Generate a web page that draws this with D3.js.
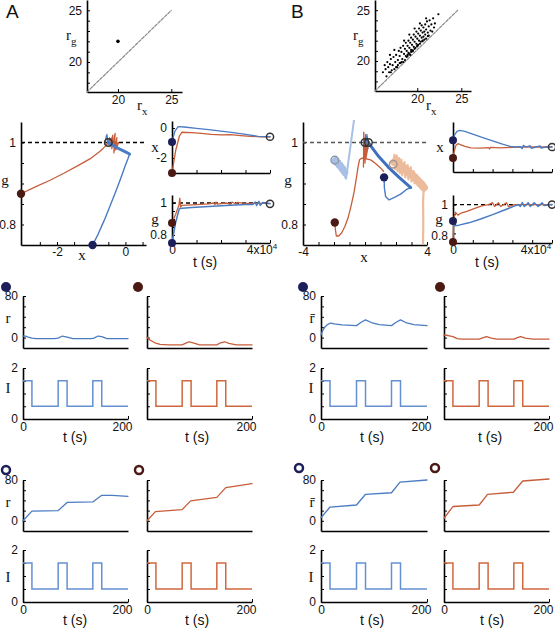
<!DOCTYPE html>
<html><head><meta charset="utf-8">
<script src="https://cdn.jsdelivr.net/npm/d3@7"></script>
<style>body{margin:0;background:#fff}</style>
</head><body><script>
// ---------------- DATA ----------------
const scatterA = [[20, 22]];
const diagA = [[17.1, 17.1], [25, 25]];
const scatterB = [[16.1,18.9],[16.3,19.6],[16.4,19.2],[16.5,18.5],[16.6,19.9],[16.7,19.4],[16.8,18.9],[16.9,19.7],[17.0,20.2],[17.1,19.1],[17.2,19.6],[17.3,20.4],[17.4,19.2],[17.5,19.9],[17.6,20.6],[17.7,19.4],[17.8,20.1],[17.9,21.0],[18.0,19.8],[18.0,20.5],[18.1,21.3],[18.2,19.9],[18.2,20.9],[18.3,20.2],[18.4,21.5],[18.4,19.9],[18.5,20.7],[18.6,21.2],[18.6,20.1],[18.7,21.8],[18.7,20.5],[18.8,20.4],[18.8,21.0],[18.9,21.5],[18.9,20.6],[19.0,22.0],[19.0,20.8],[19.1,21.3],[19.1,20.7],[19.2,21.8],[19.2,20.6],[19.3,22.3],[19.3,21.1],[19.4,20.95],[19.4,21.6],[19.5,22.1],[19.5,21.0],[19.6,22.6],[19.6,21.4],[19.7,21.2],[19.7,21.9],[19.8,22.4],[19.8,21.3],[19.9,22.9],[19.9,21.7],[20.0,21.45],[20.0,22.2],[20.1,22.7],[20.1,21.6],[20.2,23.2],[20.2,22.0],[20.3,21.7],[20.3,22.5],[20.4,23.0],[20.4,21.9],[20.5,22.3],[20.5,23.5],[20.6,22.0],[20.6,22.8],[20.7,23.3],[20.7,22.4],[20.8,22.9],[20.8,22.1],[20.9,23.6],[20.9,22.6],[21.0,23.1],[21.0,22.2],[21.1,23.9],[21.2,22.8],[21.3,23.4],[21.3,22.5],[21.4,24.0],[21.5,23.0],[21.6,23.6],[21.7,22.9],[21.8,24.2],[21.9,23.3],[22.0,23.7],[22.4,24.6],[17.0,18.9],[17.6,19.4],[18.1,19.8],[18.9,20.5],[19.5,21.05],[20.0,21.5],[20.6,21.95],[21.2,22.45],[16.9,20.6],[17.4,21.1],[18.5,22.0],[19.1,22.6],[19.7,23.2],[20.3,23.7],[21.0,24.2],[17.8,19.6],[19.3,20.9]];
const diagB = [[15.2, 17.06], [24.6, 25]];

// Phase plane A (x, g)
const redPhaseA = [[-3.05,0.875],[-2.6,0.893],[-2.2,0.908],[-1.8,0.925],[-1.4,0.943],[-1.0,0.962],[-0.75,0.978],[-0.6,0.99],[-0.5,1.0],[-0.42,1.01],[-0.45,0.99],[-0.37,1.018],[-0.4,0.985],[-0.3,1.022],[-0.34,0.975],[-0.25,1.012],[-0.28,0.982],[-0.2,1.0],[-0.35,0.995],[-0.5,1.0]];
const bluePhaseA = [[-0.96,0.75],[-0.8,0.776],[-0.62,0.81],[-0.45,0.845],[-0.3,0.877],[-0.15,0.91],[-0.02,0.94],[0.07,0.96],[0.12,0.972]];
const blueReturnA = [[0.12,0.972],[0.0,0.977],[-0.15,0.983],[-0.3,0.99],[-0.42,0.996],[-0.5,1.0]];
const blueSpikeA = [[-0.5,1.0],[-0.56,1.016],[-0.6,0.996],[-0.54,1.02],[-0.5,0.995],[-0.46,1.012],[-0.5,1.0]];
const startA = {blue:[-0.96,0.75], red:[-3.05,0.875]};
const endA = [-0.5, 1.0];

// A time courses
const xBlueA = [[0,-0.93],[1200,-0.2],[2500,0.1],[5000,0.07],[10000,-0.02],[15000,-0.1],[20000,-0.2],[25000,-0.3],[30000,-0.42],[35000,-0.55],[40000,-0.58]];
const xRedA = [[0,-3],[1500,-1.5],[3000,-0.55],[4000,-0.28],[8000,-0.3],[12000,-0.35],[16000,-0.42],[20000,-0.45],[24000,-0.44],[28000,-0.5],[32000,-0.55],[36000,-0.58],[40000,-0.58]];
const gBlueA = [[0,0.75],[1500,0.88],[3000,0.965],[8000,0.972],[15000,0.978],[22000,0.985],[30000,0.99],[33000,0.99],[34000,1.006],[34500,0.984],[35500,1.01],[36000,0.985],[37000,1.003],[40000,0.995]];
const gRedA = [[0,0.875],[1500,0.93],[2800,0.985],[3200,1.03],[3500,0.975],[4000,0.985],[10000,0.99],[15000,0.995],[17000,1.0],[17500,0.99],[18000,1.006],[18500,0.993],[22000,1.0],[24000,0.992],[24500,1.006],[26000,0.994],[26500,1.004],[30000,0.998],[40000,0.998]];

// Phase plane B
const redPhaseB = [[-1.95,0.805],[-1.9,0.785],[-1.85,0.772],[-1.7,0.772],[-1.5,0.78],[-1.3,0.795],[-1.1,0.815],[-0.9,0.845],[-0.7,0.88],[-0.55,0.915],[-0.45,0.94],[-0.35,0.958],[-0.2,0.962],[0.1,0.96],[0.4,0.957],[0.7,0.948],[1.0,0.938],[1.2,0.93]];
const redSpikeB = [[-0.1,0.94],[-0.08,1.025],[0.0,0.95],[0.05,1.02],[-0.05,0.97],[0.12,1.01],[0.05,0.96],[0.2,0.99],[0.0,1.0]];
const bluePhaseB = [[1.23,0.915],[1.25,0.89],[1.33,0.868],[1.55,0.86],[1.9,0.866],[2.3,0.874],[2.7,0.886],[2.95,0.89]];
const blueReturnB = [[2.95,0.89],[2.2,0.915],[1.5,0.94],[0.9,0.965],[0.5,0.985],[0.22,1.0]];
const blueSpikeB = [[0.22,1.0],[0.12,1.02],[0.18,0.985],[0.06,1.015],[0.2,0.99],[0.22,1.0]];
const lightBlueB = [[-1.95,0.957],[-1.9,0.965],[-1.88,0.945],[-1.8,0.962],[-1.78,0.94],[-1.7,0.958],[-1.68,0.936],[-1.6,0.955],[-1.58,0.93],[-1.5,0.95],[-1.48,0.925],[-1.4,0.945],[-1.38,0.92],[-1.3,0.94],[-1.28,0.915],[-1.22,0.912],[-0.69,1.06]];
const lightBlueBand = [[-1.93,0.955],[-1.6,0.943],[-1.3,0.928]];
const lightOrangeB = [[1.82,0.947],[1.9,0.97],[1.95,0.935],[2.05,0.968],[2.1,0.93],[2.2,0.962],[2.25,0.925],[2.35,0.958],[2.4,0.92],[2.55,0.952],[2.6,0.915],[2.75,0.945],[2.8,0.91],[2.95,0.94],[3.0,0.905],[3.15,0.93],[3.2,0.9],[3.35,0.92],[3.4,0.895],[3.55,0.91],[3.6,0.89],[3.75,0.9],[3.85,0.885],[3.78,0.88],[3.75,0.86],[3.76,0.8],[3.74,0.74]];
const lightOrangeBand = [[1.9,0.952],[2.4,0.94],[3.0,0.922],[3.6,0.9],[3.8,0.89]];
const startB = {blue:[1.23,0.915], red:[-1.95,0.805]};
const endsB = [[0.0,1.0],[0.22,1.0]];
const fadedEndsB = {blue:[-1.95,0.957], orange:[1.82,0.947]};

// B time courses
const xBlueB = [[0,1.23],[800,2.2],[2000,2.8],[3500,3.0],[6000,2.8],[10000,2.3],[15000,1.7],[20000,1.1],[25000,0.5],[29000,0.1],[31000,0.0],[34000,0.05],[35000,-0.3],[35500,0.3],[37000,0.0],[39000,0.25],[39500,-0.25],[42000,0.0],[44000,0.2],[44500,-0.2],[47000,0.0],[50000,0.0]];
const xRedB = [[0,-2.0],[600,-0.8],[1500,0.3],[2500,0.6],[4000,0.4],[6000,0.1],[9000,-0.15],[14000,-0.2],[18000,-0.1],[18500,-0.35],[19000,-0.05],[24000,-0.15],[30000,-0.05],[36000,0.0],[50000,0.0]];
const gBlueB = [[0,0.915],[700,0.89],[3000,0.893],[8000,0.905],[14000,0.925],[20000,0.948],[26000,0.972],[30000,0.988],[33000,1.0],[34000,0.99],[35000,1.01],[36000,0.99],[38000,1.01],[39000,0.99],[41000,1.01],[43000,0.99],[45000,1.01],[46000,0.995],[50000,1.0]];
const gRedB = [[0,0.805],[500,0.93],[1200,0.96],[2500,0.945],[4000,0.955],[7000,0.965],[11000,0.98],[15000,0.995],[18000,1.0],[20000,1.01],[21000,0.99],[23000,1.01],[24000,0.99],[27000,1.01],[28000,0.99],[31000,1.0],[50000,1.0]];

// Stimulus I(t)
const tPulse = [0,17,67,84,133,150,200];
const iPulse = [1.5,0.5,1.5,0.5,1.5,0.5,0.5];

// Rates (t, r)
const rA3Blue = [[0,3],[5,3],[10,1],[17,-1],[25,-2],[60,-2],[67,-1],[75,3],[84,1],[95,-2],[130,-2],[135,-1],[143,3],[150,2],[160,-2],[200,-2]];
const rA3Red = [[0,1],[3,-3],[8,-6],[15,-10],[25,-13],[40,-14],[67,-14],[75,-10],[80,-8],[88,-10],[100,-14],[133,-14],[140,-10],[148,-8],[156,-11],[170,-14],[200,-14]];
const rB3Blue = [[0,5],[3,13],[7,20],[12,25],[18,28],[25,26.5],[40,24.5],[67,23],[75,29],[84,34],[95,29],[110,25],[133,23],[141,29],[150,34],[160,29],[175,25],[200,23]];
const rB3Red = [[0,5],[8,4],[17,2],[25,-2],[35,-3],[67,-3],[75,0],[81,2],[90,-1],[100,-3],[133,-3],[140,0],[146,2],[155,-1],[170,-3],[200,-3]];
const rA4Blue = [[0,0],[17,19],[67,20],[84,36],[133,37],[150,50],[170,50],[200,48]];
const rA4Red = [[0,0],[16,18],[67,22],[83,39],[133,46],[150,65],[200,73]];
const rB4Blue = [[0,6],[17,27],[67,31],[84,52],[133,55],[149,76],[200,80]];
const rB4Red = [[0,5],[17,28],[67,31],[83,52],[132,56],[150,78],[200,82]];

// ---------------- DRAW ----------------
const SANS = "Liberation Sans, Arial, Helvetica, sans-serif";
const SERIF = "Liberation Serif, Times New Roman, DejaVu Serif, serif";
const BLUE = "#4a7cc3", RED = "#c85d3a", DBLUE = "#1d1f5a", DRED = "#4b1a14";
const LBLUE = "#a9c0e6", LORANGE = "#ecbb9c", IBLUE = "#6590d2", IRED = "#d0683f";

const svg = d3.select("body").append("svg").attr("width",555).attr("height",628);
svg.append("rect").attr("width",555).attr("height",628).attr("fill","#fff");
let clipN = 0;

function panel(left,right,top,bottom,xd,yd){
  return {x:d3.scaleLinear().domain(xd).range([left,right]),
          y:d3.scaleLinear().domain(yd).range([bottom,top]), left,right,top,bottom};
}
function drawAxes(p,o){
  const ax = d3.axisBottom(p.x).tickValues(o.xt||[]).tickSizeInner(-3).tickSizeOuter(0)
    .tickPadding(o.xpad||2).tickFormat(o.xf||(()=>""));
  const gx = svg.append("g").attr("transform",`translate(0,${p.bottom})`).call(ax);
  const ay = d3.axisLeft(p.y).tickValues(o.yt||[]).tickSizeInner(-3).tickSizeOuter(0)
    .tickPadding(o.ypad||5).tickFormat(o.yf||(()=>""));
  const gy = svg.append("g").attr("transform",`translate(${p.left},0)`).call(ay);
  [gx,gy].forEach(g=>{
    g.select(".domain").attr("stroke","#000").attr("stroke-width",1.6);
    g.selectAll(".tick line").attr("stroke","#000").attr("stroke-width",1);
    g.selectAll(".tick text").attr("font-family",SANS).attr("font-size",o.fs||12).attr("fill","#111");
  });
  return gx;
}
function makeClip(p){
  const id="c"+(clipN++);
  svg.append("clipPath").attr("id",id).append("rect")
    .attr("x",p.left).attr("y",p.top-2).attr("width",p.right-p.left+2).attr("height",p.bottom-p.top+2);
  return id;
}
function line(p,data,color,w,clip,dash){
  const l = d3.line().x(d=>p.x(d[0])).y(d=>p.y(d[1]));
  svg.append("path").datum(data).attr("d",l).attr("fill","none").attr("stroke",color)
    .attr("stroke-width",w).attr("stroke-linejoin","round").attr("stroke-linecap","round")
    .attr("stroke-dasharray",dash||null)
    .attr("clip-path",clip?`url(#${clip})`:null);
}
function dot(p,d,color,r){
  svg.append("circle").attr("cx",p.x(d[0])).attr("cy",p.y(d[1])).attr("r",r||4).attr("fill",color);
}
function ring(p,d,color,r,w){
  svg.append("circle").attr("cx",p.x(d[0])).attr("cy",p.y(d[1])).attr("r",r||3.8)
    .attr("fill","none").attr("stroke",color).attr("stroke-width",w||1.5);
}
function hdash(p,v,color){
  svg.append("line").attr("x1",p.left).attr("x2",p.right).attr("y1",p.y(v)).attr("y2",p.y(v))
    .attr("stroke",color).attr("stroke-width",1.3).attr("stroke-dasharray","4,3");
}
function txt(x,y,s,o){
  o=o||{};
  return svg.append("text").attr("x",x).attr("y",y).text(s)
    .attr("font-family",o.font||SANS).attr("font-size",o.size||12)
    .attr("text-anchor",o.anchor||"middle").attr("fill","#111");
}
function subLabel(x,y,main,sub){
  const t = svg.append("text").attr("x",x).attr("y",y).attr("font-family",SERIF).attr("font-size",15).attr("fill","#111");
  t.append("tspan").text(main);
  t.append("tspan").attr("dy",5).attr("font-size",11).text(sub);
}
function sciLabel(x,y){
  const t = svg.append("text").attr("x",x).attr("y",y).attr("font-family",SANS).attr("font-size",12)
    .attr("text-anchor","middle").attr("fill","#111");
  t.append("tspan").text("4x10");
  t.append("tspan").attr("dy",-5).attr("font-size",8).text("4");
}

// Panel letters
txt(6,18,"A",{size:19,anchor:"start"});
txt(291,18,"B",{size:19,anchor:"start"});

// ---- Top scatter A
{
  const p = panel(87,182,0,92,[17.1,26],[17.1,26]);
  drawAxes(p,{xt:[20,25],yt:[18,19,20,21,22,23,24,25],xpad:3,
    xf:d=>d===20||d===25?String(d):"", yf:d=>d===20||d===25?String(d):""});
  line(p,diagA,"#8a8a8a",1.2,null,"3,1.5");
  scatterA.forEach(d=>dot(p,d,"#000",1.8));
  subLabel(66,40,"r","g");
  subLabel(137,110,"r","x");
}
// ---- Top scatter B
{
  const p = panel(375,471,0,91,[15.2,26.1],[17.06,26]);
  drawAxes(p,{xt:[20,25],yt:[18,19,20,21,22,23,24,25],xpad:3,
    xf:d=>d===20||d===25?String(d):"", yf:d=>d===20||d===25?String(d):""});
  line(p,diagB,"#8a8a8a",1.2,null,"3,1.5");
  scatterB.forEach(d=>dot(p,d,"#000",1.1));
  subLabel(353,40,"r","g");
  subLabel(426,110,"r","x");
}

// ---- Phase A
{
  const p = panel(21,146,122,245,[-3.05,0.6],[0.75,1.05]);
  const c = makeClip(p);
  drawAxes(p,{xt:[-2.5,-2,-1.5,-1,-0.5,0,0.5],yt:[0.8,0.85,0.9,0.95,1],
    xf:d=>d===-2?"-2":d===0?"0":"", yf:d=>d===1?"1":d===0.8?"0.8":""});
  hdash(p,1,"#000");
  line(p,redPhaseA,RED,1.3,c);
  line(p,bluePhaseA,BLUE,1.4,c);
  line(p,blueReturnA,BLUE,3,c);
  line(p,blueSpikeA,BLUE,1.2,c);
  dot(p,startA.red,DRED,4.2);
  dot(p,startA.blue,DBLUE,4.2);
  ring(p,endA,"#333",3.8,1.5);
  txt(82,260,"x",{font:SERIF,size:15});
  txt(5,185,"g",{font:SERIF,size:15});
}
// ---- A x(t)
{
  const p = panel(172,270,121,173,[0,40000],[-3,0.47]);
  drawAxes(p,{xt:[10000,20000,30000,40000],yt:[-3,-2,-1,0],
    yf:d=>d===0?"0":d===-2?"-2":""});
  line(p,xRedA,RED,1.3);
  line(p,xBlueA,BLUE,1.3);
  dot(p,xBlueA[0],DBLUE,4);
  dot(p,xRedA[0],DRED,4);
  ring(p,xBlueA[xBlueA.length-1],"#333",3.6,1.5);
  txt(155,152,"x",{font:SERIF,size:15});
}
// ---- A g(t)
{
  const p = panel(172,270,195,243,[0,40000],[0.75,1.05]);
  drawAxes(p,{xt:[0,10000,20000,30000,40000],yt:[0.8,0.85,0.9,0.95,1],
    xf:d=>d===0?"0":"", yf:d=>d===1?"1":d===0.8?"0.8":""});
  hdash(p,1,"#000");
  line(p,gRedA,RED,1.3);
  line(p,gBlueA,BLUE,1.5);
  dot(p,gBlueA[0],DBLUE,4);
  dot(p,gRedA[0],DRED,4);
  ring(p,gBlueA[gBlueA.length-1],"#333",3.6,1.5);
  txt(155,224,"g",{font:SERIF,size:15});
  sciLabel(262,254);
  txt(205,267,"t (s)",{size:14});
}

// ---- Phase B
{
  const p = panel(303,427,122,245,[-4,4],[0.75,1.05]);
  const c = makeClip(p);
  drawAxes(p,{xt:[-4,-3,-2,-1,0,1,2,3,4],yt:[0.8,0.85,0.9,0.95,1],
    xf:d=>d===-4?"-4":d===4?"4":"", yf:d=>d===1?"1":d===0.8?"0.8":""});
  hdash(p,1,"#555");
  line(p,lightBlueBand,LBLUE,7,c);
  line(p,lightOrangeBand,LORANGE,8,c);
  line(p,lightBlueB,LBLUE,2,c);
  line(p,lightOrangeB,LORANGE,2.2,c);
  line(p,redPhaseB,RED,1.3,c);
  line(p,redSpikeB,RED,1.3,c);
  line(p,bluePhaseB,BLUE,1.4,c);
  line(p,blueReturnB,"#3f6fbd",3,c);
  line(p,blueSpikeB,BLUE,1.2,c);
  dot(p,startB.red,DRED,4.2);
  dot(p,startB.blue,DBLUE,4.2);
  ring(p,fadedEndsB.blue,"#8e97a8",3.8,1.5);
  ring(p,fadedEndsB.orange,"#a8968c",3.8,1.5);
  endsB.forEach(d=>ring(p,d,"#333",3.8,1.5));
  txt(364,262,"x",{font:SERIF,size:15});
  txt(288,185,"g",{font:SERIF,size:15});
}
// ---- B x(t)
{
  const p = panel(453,552,122,172,[0,50000],[-4.5,4.5]);
  drawAxes(p,{xt:[10000,20000,30000,40000,50000],yt:[]});
  line(p,xRedB,RED,1.3);
  line(p,xBlueB,BLUE,1.3);
  dot(p,xBlueB[0],DBLUE,4);
  dot(p,xRedB[0],DRED,4);
  ring(p,xBlueB[xBlueB.length-1],"#333",3.6,1.5);
  txt(440,152,"x",{font:SERIF,size:15});
}
// ---- B g(t)
{
  const p = panel(453,552,195,243,[0,50000],[0.8,1.05]);
  drawAxes(p,{xt:[0,10000,20000,30000,40000,50000],yt:[0.85,0.9,0.95,1],
    xf:d=>d===0?"0":"", yf:d=>d===1?"1":""});
  txt(448,240,"0.8",{anchor:"end"});
  hdash(p,1,"#000");
  line(p,gRedB,RED,1.3);
  line(p,gBlueB,BLUE,1.5);
  dot(p,gBlueB[0],DBLUE,4);
  dot(p,gRedB[0],DRED,4);
  ring(p,gBlueB[gBlueB.length-1],"#333",3.6,1.5);
  txt(439,224,"g",{font:SERIF,size:15});
  sciLabel(536,254);
  txt(487,267,"t (s)",{size:14});
}

// ---- Rows 3 & 4: r and I panels
function ratePair(left,right,rTop,rBot,iTop,iBot,rData,lineCol,iCol,o){
  const pr = panel(left,right,rTop,rBot,[0,200],[-20,80]);
  drawAxes(pr,{xt:[],yt:[0,20,40,60,80],yf:o.ylab?(d=>d===0?"0":d===80?"80":""):null});
  line(pr,rData,lineCol,1.3);
  const pi = panel(left,right,iTop,iBot,[0,200],[0,2]);
  const gx = drawAxes(pi,{xt:o.x0?[0,200]:[200],yt:[0,0.5,1,1.5,2],xpad:3,
    xf:d=>String(d), yf:o.ylab?(d=>d===0?"0":d===2?"2":""):null});
  gx.selectAll(".tick text").filter(d=>d===200).attr("dx",-6);
  svg.append("path").datum(tPulse.map((t,i)=>[t,iPulse[i]]))
    .attr("d",d3.line().x(d=>pi.x(d[0])).y(d=>pi.y(d[1])).curve(d3.curveStepAfter))
    .attr("fill","none").attr("stroke",iCol).attr("stroke-width",1.5);
}
// row 3
ratePair(23,128,296,348,368,419,rA3Blue,BLUE,IBLUE,{ylab:true,x0:true});
ratePair(147,252,296,348,368,419,rA3Red,RED,IRED,{ylab:false,x0:false});
ratePair(321,427,296,348,368,419,rB3Blue,BLUE,IBLUE,{ylab:true,x0:true});
ratePair(444,549,296,348,368,419,rB3Red,RED,IRED,{ylab:false,x0:false});
// row 4
ratePair(23,128,480,531,550,602,rA4Blue,BLUE,IBLUE,{ylab:true,x0:true});
ratePair(147,252,480,531,550,602,rA4Red,RED,IRED,{ylab:false,x0:true});
ratePair(321,427,480,531,550,602,rB4Blue,BLUE,IBLUE,{ylab:true,x0:true});
ratePair(444,549,480,531,550,602,rB4Red,RED,IRED,{ylab:false,x0:true});

// axis labels rows 3/4
[[8,323,"r"],[8,507,"r"],[312,323,"r\u0304"],[312,507,"r\u0304"],
 [8,393,"I"],[8,582,"I"],[311,393,"I"],[311,582,"I"]].forEach(a=>txt(a[0],a[1],a[2],{font:SERIF,size:15}));
[[75,442],[197,442],[372,442],[490,442],[75,625],[197,625],[372,625],[492,625]].forEach(a=>txt(a[0],a[1],"t (s)",{size:14}));

// markers
svg.append("circle").attr("cx",6).attr("cy",287).attr("r",5).attr("fill",DBLUE);
svg.append("circle").attr("cx",138).attr("cy",287).attr("r",5).attr("fill",DRED);
svg.append("circle").attr("cx",303).attr("cy",287).attr("r",5).attr("fill",DBLUE);
svg.append("circle").attr("cx",440).attr("cy",287).attr("r",5).attr("fill",DRED);
svg.append("circle").attr("cx",6).attr("cy",470).attr("r",4).attr("fill","none").attr("stroke",DBLUE).attr("stroke-width",2.5);
svg.append("circle").attr("cx",139).attr("cy",470).attr("r",4).attr("fill","none").attr("stroke",DRED).attr("stroke-width",2.5);
svg.append("circle").attr("cx",299).attr("cy",468).attr("r",4).attr("fill","none").attr("stroke",DBLUE).attr("stroke-width",2.5);
svg.append("circle").attr("cx",435).attr("cy",468).attr("r",4).attr("fill","none").attr("stroke",DRED).attr("stroke-width",2.5);
</script></body></html>
